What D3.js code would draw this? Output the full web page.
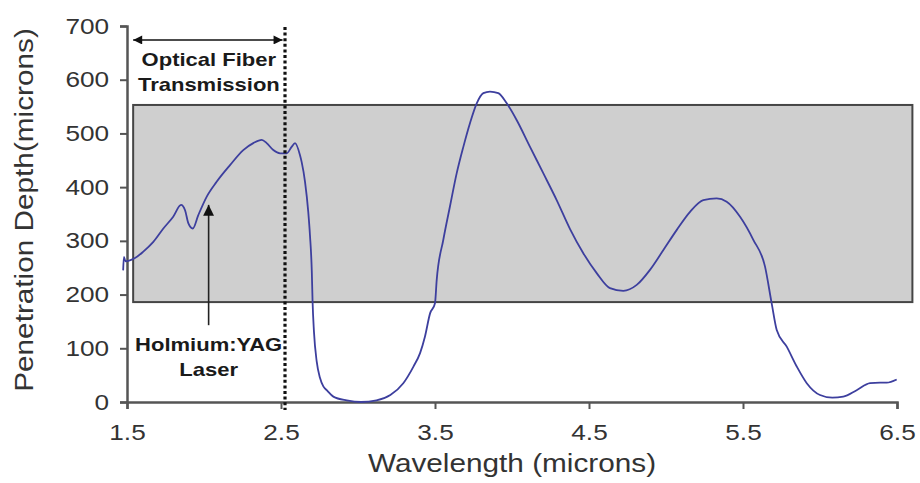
<!DOCTYPE html>
<html>
<head>
<meta charset="utf-8">
<script src="https://cdn.jsdelivr.net/npm/d3@7"></script>
<style>
  html, body { margin: 0; padding: 0; background: #fff; }
  svg { display: block; font-family: Arial, "Liberation Sans", sans-serif; }
</style>
</head>
<body>
<svg id="chart" width="920" height="483"></svg>
<script>
// wavelength (microns) vs penetration depth (microns)
const wavelength = [1.475, 1.48, 1.49, 1.552, 1.606, 1.671, 1.736, 1.80, 1.851, 1.877, 1.898, 1.927, 1.963,
  2.017, 2.082, 2.169, 2.255, 2.32, 2.375, 2.407, 2.45, 2.494, 2.537, 2.569, 2.591, 2.623, 2.634, 2.656,
  2.677, 2.688, 2.70, 2.705, 2.714, 2.732, 2.753, 2.775, 2.797, 2.84, 2.927, 3.02, 3.12, 3.21, 3.294,
  3.36, 3.403, 3.435, 3.468, 3.5, 3.511, 3.554, 3.597, 3.641, 3.684, 3.727, 3.771, 3.814, 3.857, 3.911,
  3.966, 4.03, 4.117, 4.203, 4.29, 4.377, 4.463, 4.55, 4.636, 4.723, 4.81, 4.896, 4.983, 5.069, 5.156,
  5.242, 5.329, 5.394, 5.481, 5.567, 5.643, 5.686, 5.719, 5.784, 5.849, 5.914, 6.0, 6.08, 6.151, 6.238,
  6.325, 6.39, 6.433, 6.498];
const depth = [245, 270, 262, 268, 280, 298, 323, 345, 367, 357, 333, 323, 348,
  382, 410, 441, 469, 482, 488, 482, 469, 463, 463, 475, 482, 460, 447, 410,
  354, 311, 243, 187, 131, 75, 45, 29, 22, 10, 3, 0, 3, 13, 35,
  66, 91, 122, 165, 184, 227, 302, 364, 426, 475, 519, 556, 575, 578, 575,
  556, 525, 475, 426, 376, 322, 277, 240, 212, 207, 218, 246, 283, 320, 354,
  376, 379, 373, 345, 302, 252, 184, 134, 103, 66, 35, 13, 8, 10, 22,
  35, 36, 36, 42];

const xTicks = [1.5, 2.5, 3.5, 4.5, 5.5, 6.5];
const yTicks = [0, 100, 200, 300, 400, 500, 600, 700];

// shaded band and annotations
const bandX = [1.54, 6.6], bandY = [186, 553];
const fiberCutoff = 2.526;
const fiberArrow = [1.54, 2.51], fiberArrowY = 674;
const fiberLabel = ["Optical Fiber", "Transmission"];
const laserAt = 2.03, laserArrow = [143, 367];
const laserLabel = ["Holmium:YAG", "Laser"];

const SX = 1.19; // the source text is drawn a bit wide
const svg = d3.select("#chart");
const x = d3.scaleLinear().domain([1.5, 6.5]).range([127, 897]);
const y = d3.scaleLinear().domain([0, 700]).range([402, 26]);

const wideText = (g, tx, ty, rot) => g.append("text")
  .attr("transform", "translate(" + tx + "," + ty + ")" + (rot ? " rotate(" + rot + ")" : "") + " scale(" + SX + ",1)");

const defs = svg.append("defs");
defs.append("marker").attr("id", "ah").attr("viewBox", "0 0 10 10").attr("refX", 10).attr("refY", 5)
  .attr("markerWidth", 10).attr("markerHeight", 9).attr("markerUnits", "userSpaceOnUse").attr("orient", "auto-start-reverse")
  .append("path").attr("d", "M0,0L10,5L0,10z").attr("fill", "#111");
defs.append("marker").attr("id", "ah2").attr("viewBox", "0 0 10 10").attr("refX", 10).attr("refY", 5)
  .attr("markerWidth", 13).attr("markerHeight", 11).attr("markerUnits", "userSpaceOnUse").attr("orient", "auto")
  .append("path").attr("d", "M0,0L10,5L0,10z").attr("fill", "#111");

// grey band
svg.append("rect")
  .attr("x", x(bandX[0])).attr("y", y(bandY[1]))
  .attr("width", x(bandX[1]) - x(bandX[0])).attr("height", y(bandY[0]) - y(bandY[1]))
  .attr("fill", "#cfcfcf").attr("stroke", "#454545").attr("stroke-width", 2);

// axes
const yAxis = svg.append("g").attr("transform", "translate(" + x(1.5) + ",0)")
  .call(d3.axisLeft(y).tickValues(yTicks).tickSize(7).tickPadding(8).tickFormat(d3.format("d")));
const xAxis = svg.append("g").attr("transform", "translate(0," + y(0) + ")")
  .call(d3.axisBottom(x).tickValues(xTicks).tickSize(7).tickPadding(15).tickFormat(d3.format(".1f")));
[xAxis, yAxis].forEach(a => {
  a.select(".domain").attr("stroke", "#555").attr("stroke-width", 2.5);
  a.selectAll(".tick line").attr("stroke", "#555").attr("stroke-width", 2);
  a.selectAll(".tick text").attr("fill", "#333").attr("font-size", 22)
    .attr("font-family", "Arial, 'Liberation Sans', sans-serif").attr("transform", "scale(" + SX + ",1)");
});

// axis titles
wideText(svg, 512, 472).attr("text-anchor", "middle")
  .attr("font-size", 25).attr("fill", "#333").text("Wavelength (microns)");
wideText(svg, 33, 210, -90).attr("text-anchor", "middle")
  .attr("font-size", 25).attr("fill", "#333").text("Penetration Depth(microns)");

// curve
const pts = wavelength.map((w, i) => [w, depth[i]]);
const line = d3.line().curve(d3.curveMonotoneX).x(d => x(d[0])).y(d => y(d[1]));
svg.append("path").datum(pts).attr("d", line)
  .attr("fill", "none").attr("stroke", "#3d3f9e").attr("stroke-width", 1.8).attr("stroke-linejoin", "round");

// dotted fiber cutoff line
svg.append("line").attr("x1", x(fiberCutoff)).attr("x2", x(fiberCutoff))
  .attr("y1", y(700) + 1).attr("y2", y(0) + 8)
  .attr("stroke", "#111").attr("stroke-width", 3.2).attr("stroke-dasharray", "3,2.6");

// double arrow
svg.append("line").attr("x1", x(fiberArrow[0])).attr("x2", x(fiberArrow[1]))
  .attr("y1", y(fiberArrowY)).attr("y2", y(fiberArrowY))
  .attr("stroke", "#111").attr("stroke-width", 1.5)
  .attr("marker-start", "url(#ah)").attr("marker-end", "url(#ah)");
fiberLabel.forEach((t, i) => wideText(svg, x((fiberArrow[0] + fiberArrow[1]) / 2) + 1, 66 + i * 25)
  .attr("text-anchor", "middle").attr("font-size", 18.5).attr("font-weight", "bold").attr("fill", "#1a1a1a").text(t));

// laser arrow
svg.append("line").attr("x1", x(laserAt)).attr("x2", x(laserAt))
  .attr("y1", y(laserArrow[0])).attr("y2", y(laserArrow[1]))
  .attr("stroke", "#222").attr("stroke-width", 1.6).attr("marker-end", "url(#ah2)");
laserLabel.forEach((t, i) => wideText(svg, x(laserAt), 351 + i * 25)
  .attr("text-anchor", "middle").attr("font-size", 18.5).attr("font-weight", "bold").attr("fill", "#1a1a1a").text(t));
</script>
</body>
</html>
